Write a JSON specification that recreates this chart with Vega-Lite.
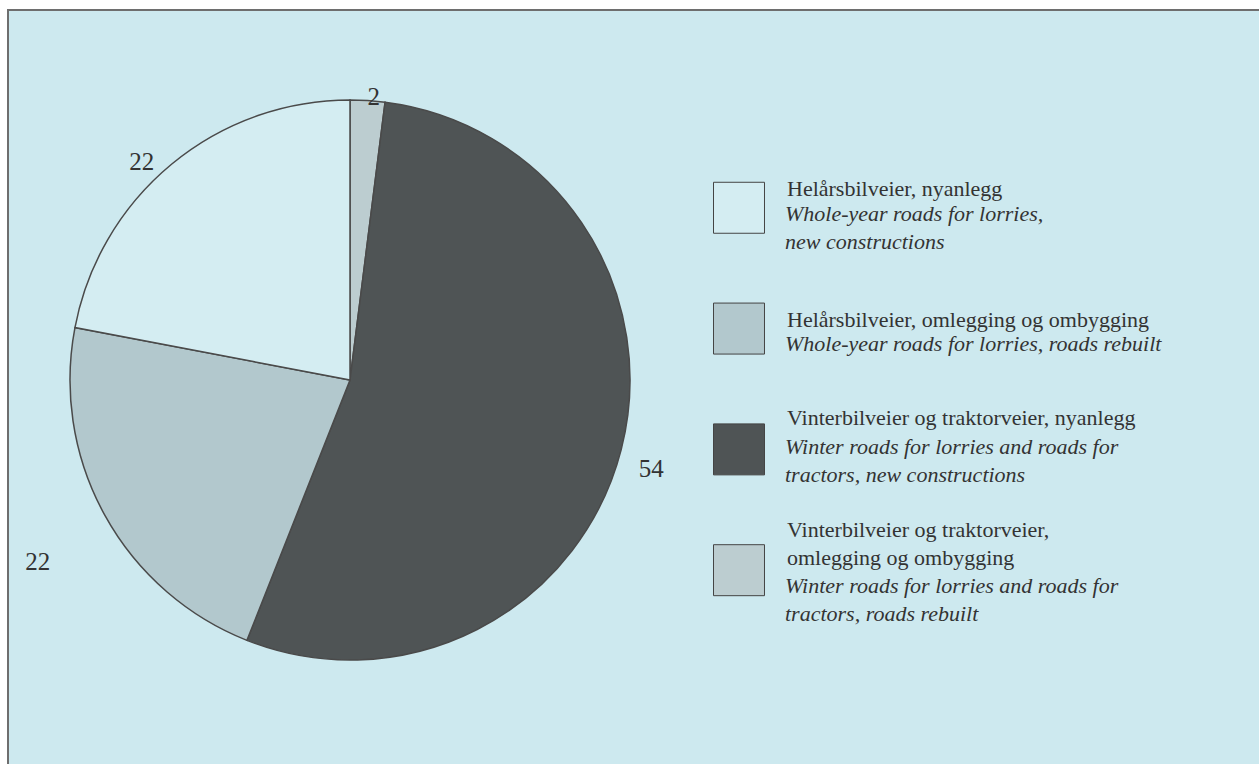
{
  "$schema": "https://vega.github.io/schema/vega-lite/v6.json",
  "width": 1259,
  "height": 764,
  "autosize": {"type": "fit", "contains": "padding"},
  "padding": {"left": 8, "top": 10, "right": -6, "bottom": -6},
  "background": "#ffffff",
  "config": {
    "view": {"fill": "#cde9ef", "stroke": "#6e6e6e", "strokeWidth": 2},
    "text": {"font": "Liberation Serif", "color": "#333333"}
  },
  "datasets": {
    "slices": [
      {"cat": "Vinterbilveier og traktorveier, omlegging og ombygging", "share": 2, "k": 1},
      {"cat": "Vinterbilveier og traktorveier, nyanlegg", "share": 54, "k": 2},
      {"cat": "Helårsbilveier, omlegging og ombygging", "share": 22, "k": 3},
      {"cat": "Helårsbilveier, nyanlegg", "share": 22, "k": 4}
    ],
    "legend": [
      {"i": 0, "cat": "Helårsbilveier, nyanlegg", "no": "Helårsbilveier, nyanlegg", "en": "Whole-year roads for lorries,\nnew constructions"},
      {"i": 1, "cat": "Helårsbilveier, omlegging og ombygging", "no": "Helårsbilveier, omlegging og ombygging", "en": "Whole-year roads for lorries, roads rebuilt"},
      {"i": 2, "cat": "Vinterbilveier og traktorveier, nyanlegg", "no": "Vinterbilveier og traktorveier, nyanlegg", "en": "Winter roads for lorries and roads for\ntractors, new constructions"},
      {"i": 3, "cat": "Vinterbilveier og traktorveier, omlegging og ombygging", "no": "Vinterbilveier og traktorveier,\nomlegging og ombygging", "en": "Winter roads for lorries and roads for\ntractors, roads rebuilt"}
    ]
  },
  "layer": [
    {
      "data": {"name": "slices"},
      "mark": {"type": "arc", "radius": 280, "stroke": "#4a4a4a", "strokeWidth": 1.5, "xOffset": -286.5, "yOffset": -10},
      "encoding": {
        "theta": {"field": "share", "type": "quantitative", "stack": true},
        "order": {"field": "k", "type": "quantitative"},
        "fill": {
          "field": "cat", "type": "nominal", "legend": null,
          "scale": {
            "domain": ["Helårsbilveier, nyanlegg", "Helårsbilveier, omlegging og ombygging", "Vinterbilveier og traktorveier, nyanlegg", "Vinterbilveier og traktorveier, omlegging og ombygging"],
            "range": ["#d4edf2", "#b2c8cd", "#4f5455", "#bccdd0"]
          }
        }
      }
    },
    {
      "data": {"name": "slices"},
      "mark": {"type": "text", "radius": 284, "fontSize": 25, "baseline": "middle", "align": "center", "xOffset": -286.5, "yOffset": -10, "dx": 6},
      "encoding": {
        "theta": {"field": "share", "type": "quantitative", "stack": true},
        "order": {"field": "k", "type": "quantitative"},
        "text": {"condition": {"test": "datum.k == 1", "field": "share", "type": "quantitative"}, "value": ""}
      }
    },
    {
      "data": {"name": "slices"},
      "mark": {"type": "text", "radius": 314, "fontSize": 25, "baseline": "middle", "align": "center", "xOffset": -286.5, "yOffset": -10, "dx": -3, "dy": 11},
      "encoding": {
        "theta": {"field": "share", "type": "quantitative", "stack": true},
        "order": {"field": "k", "type": "quantitative"},
        "text": {"condition": {"test": "datum.k == 2", "field": "share", "type": "quantitative"}, "value": ""}
      }
    },
    {
      "data": {"name": "slices"},
      "mark": {"type": "text", "radius": 361, "fontSize": 25, "baseline": "middle", "align": "center", "xOffset": -286.5, "yOffset": -10, "dx": 4, "dy": 8},
      "encoding": {
        "theta": {"field": "share", "type": "quantitative", "stack": true},
        "order": {"field": "k", "type": "quantitative"},
        "text": {"condition": {"test": "datum.k == 3", "field": "share", "type": "quantitative"}, "value": ""}
      }
    },
    {
      "data": {"name": "slices"},
      "mark": {"type": "text", "radius": 300, "fontSize": 25, "baseline": "middle", "align": "center", "xOffset": -286.5, "yOffset": -10, "dx": -17, "dy": 13},
      "encoding": {
        "theta": {"field": "share", "type": "quantitative", "stack": true},
        "order": {"field": "k", "type": "quantitative"},
        "text": {"condition": {"test": "datum.k == 4", "field": "share", "type": "quantitative"}, "value": ""}
      }
    },
    {
      "data": {"name": "legend"},
      "mark": {"type": "square", "size": 2600, "opacity": 1, "filled": true, "stroke": "#444444", "strokeWidth": 1, "xOffset": 102.5},
      "encoding": {
        "y": {"field": "i", "type": "quantitative", "axis": null, "scale": {"domain": [-1.637, 4.654], "reverse": true, "nice": false, "zero": false}},
        "fill": {"field": "cat", "type": "nominal", "legend": null}
      }
    },
    {
      "data": {"name": "legend"},
      "transform": [{"filter": "datum.i == 0"}],
      "layer": [
        {"mark": {"type": "text", "align": "left", "baseline": "alphabetic", "fontSize": 22, "lineBreak": "\n", "lineHeight": 28, "xOffset": 150.5, "yOffset": -12},
         "encoding": {"y": {"field": "i", "type": "quantitative"}, "text": {"field": "no", "type": "nominal"}}},
        {"mark": {"type": "text", "align": "left", "baseline": "alphabetic", "fontSize": 22, "fontStyle": "italic", "lineBreak": "\n", "lineHeight": 28, "xOffset": 148.5, "yOffset": 13},
         "encoding": {"y": {"field": "i", "type": "quantitative"}, "text": {"field": "en", "type": "nominal"}}}
      ]
    },
    {
      "data": {"name": "legend"},
      "transform": [{"filter": "datum.i == 1"}],
      "layer": [
        {"mark": {"type": "text", "align": "left", "baseline": "alphabetic", "fontSize": 22, "lineBreak": "\n", "lineHeight": 28, "xOffset": 150.5, "yOffset": -2},
         "encoding": {"y": {"field": "i", "type": "quantitative"}, "text": {"field": "no", "type": "nominal"}}},
        {"mark": {"type": "text", "align": "left", "baseline": "alphabetic", "fontSize": 22, "fontStyle": "italic", "lineBreak": "\n", "lineHeight": 28, "xOffset": 148.5, "yOffset": 22},
         "encoding": {"y": {"field": "i", "type": "quantitative"}, "text": {"field": "en", "type": "nominal"}}}
      ]
    },
    {
      "data": {"name": "legend"},
      "transform": [{"filter": "datum.i == 2"}],
      "layer": [
        {"mark": {"type": "text", "align": "left", "baseline": "alphabetic", "fontSize": 22, "lineBreak": "\n", "lineHeight": 28, "xOffset": 150.5, "yOffset": -24},
         "encoding": {"y": {"field": "i", "type": "quantitative"}, "text": {"field": "no", "type": "nominal"}}},
        {"mark": {"type": "text", "align": "left", "baseline": "alphabetic", "fontSize": 22, "fontStyle": "italic", "lineBreak": "\n", "lineHeight": 28, "xOffset": 148.5, "yOffset": 5},
         "encoding": {"y": {"field": "i", "type": "quantitative"}, "text": {"field": "en", "type": "nominal"}}}
      ]
    },
    {
      "data": {"name": "legend"},
      "transform": [{"filter": "datum.i == 3"}],
      "layer": [
        {"mark": {"type": "text", "align": "left", "baseline": "alphabetic", "fontSize": 22, "lineBreak": "\n", "lineHeight": 28, "xOffset": 150.5, "yOffset": -33},
         "encoding": {"y": {"field": "i", "type": "quantitative"}, "text": {"field": "no", "type": "nominal"}}},
        {"mark": {"type": "text", "align": "left", "baseline": "alphabetic", "fontSize": 22, "fontStyle": "italic", "lineBreak": "\n", "lineHeight": 28, "xOffset": 148.5, "yOffset": 23},
         "encoding": {"y": {"field": "i", "type": "quantitative"}, "text": {"field": "en", "type": "nominal"}}}
      ]
    }
  ]
}
